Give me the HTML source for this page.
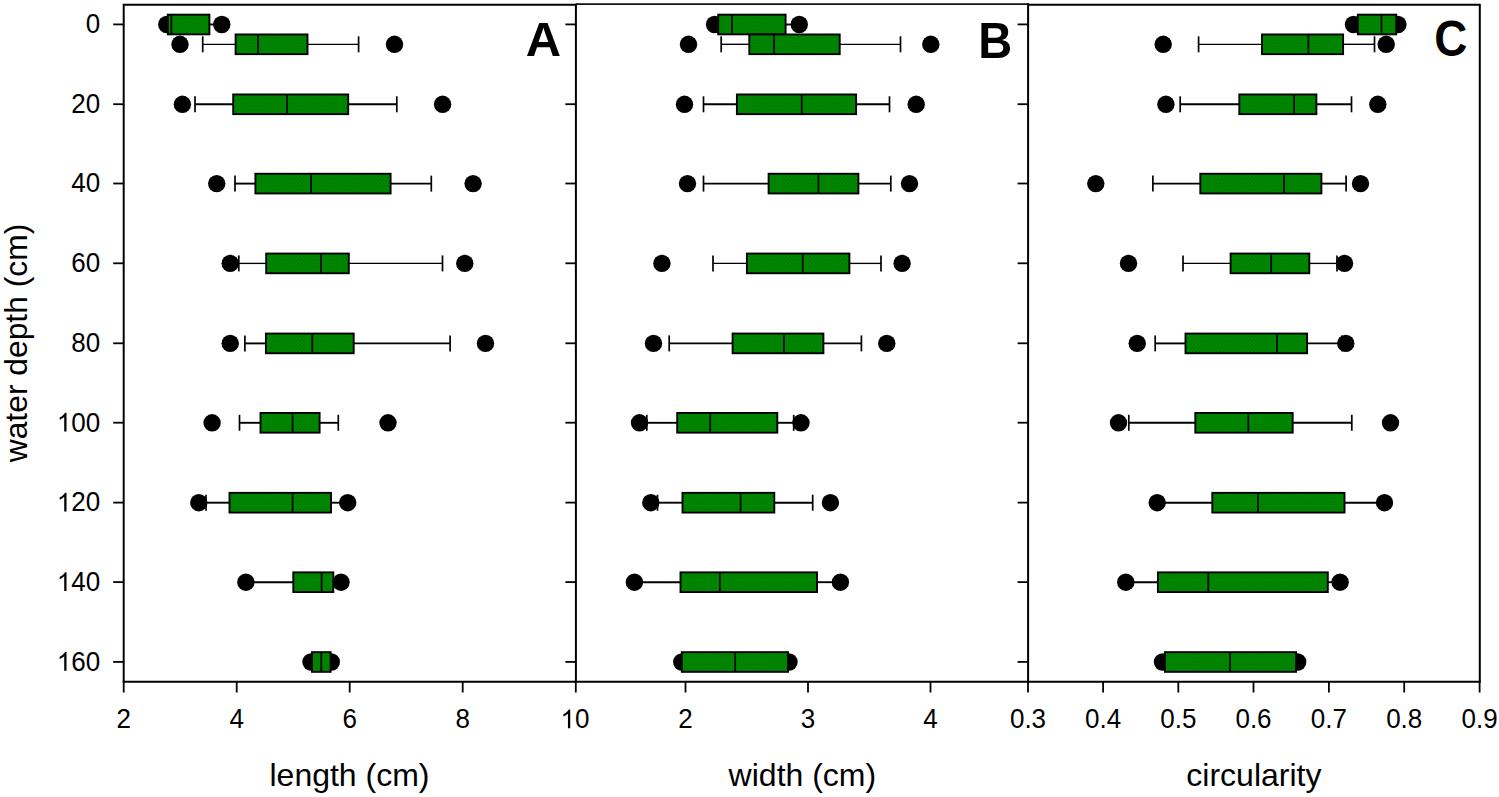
<!DOCTYPE html>
<html><head><meta charset="utf-8"><title>Box plots</title>
<style>
html,body{margin:0;padding:0;background:#fff;}
svg{display:block;font-family:"Liberation Sans",sans-serif;}
.w{stroke:#000;stroke-width:1.9;fill:none;}
.c{stroke:#000;stroke-width:1.7;fill:none;}
.b{fill:url(#gp);stroke:#000;stroke-width:1.9;}
.f{stroke:#000;stroke-width:2;fill:none;}
.f2{stroke:#111;stroke-width:1.7;fill:none;}
.t{stroke:#000;stroke-width:1.8;}
.tl{font-size:26px;fill:#000;}
.at{font-size:32px;fill:#000;}
.pl{font-size:48px;font-weight:bold;fill:#000;}
</style></head>
<body>
<svg width="1499" height="797" viewBox="0 0 1499 797">
<defs><pattern id="gp" width="6.8" height="4.2" patternUnits="userSpaceOnUse"><rect width="6.8" height="4.2" fill="#008700"/><circle cx="0.9" cy="0.7" r="0.6" fill="#006e00"/><circle cx="4.3" cy="0.7" r="0.6" fill="#006e00"/><circle cx="2.6" cy="2.8" r="0.6" fill="#006e00"/><circle cx="6.0" cy="2.8" r="0.6" fill="#006e00"/></pattern></defs>
<rect width="1499" height="797" fill="#fff"/>
<circle cx="166.8" cy="24.5" r="8.7"/>
<circle cx="221.8" cy="24.5" r="8.7"/>
<line x1="209.4" y1="24.5" x2="221.0" y2="24.5" class="w"/>
<rect x="167.8" y="14.65" width="41.6" height="19.7" class="b"/>
<line x1="171.4" y1="14.65" x2="171.4" y2="34.35" class="c"/>
<circle cx="180.0" cy="44.3" r="8.7"/>
<circle cx="394.5" cy="44.3" r="8.7"/>
<line x1="202.7" y1="44.3" x2="235.6" y2="44.3" class="w" style="stroke-width:1.35"/>
<line x1="202.7" y1="36.3" x2="202.7" y2="52.3" class="c"/>
<line x1="307.5" y1="44.3" x2="358.6" y2="44.3" class="w" style="stroke-width:1.35"/>
<line x1="358.6" y1="36.3" x2="358.6" y2="52.3" class="c"/>
<rect x="235.6" y="34.45" width="71.9" height="19.7" class="b"/>
<line x1="258.1" y1="34.45" x2="258.1" y2="54.15" class="c"/>
<circle cx="182.4" cy="104.3" r="8.7"/>
<circle cx="442.6" cy="104.3" r="8.7"/>
<line x1="195.0" y1="104.3" x2="233.2" y2="104.3" class="w"/>
<line x1="195.0" y1="96.3" x2="195.0" y2="112.3" class="c"/>
<line x1="348.2" y1="104.3" x2="396.8" y2="104.3" class="w"/>
<line x1="396.8" y1="96.3" x2="396.8" y2="112.3" class="c"/>
<rect x="233.2" y="94.45" width="115.0" height="19.7" class="b"/>
<line x1="287.1" y1="94.45" x2="287.1" y2="114.15" class="c"/>
<circle cx="216.7" cy="183.6" r="8.7"/>
<circle cx="473.1" cy="183.6" r="8.7"/>
<line x1="235.0" y1="183.6" x2="255.4" y2="183.6" class="w"/>
<line x1="235.0" y1="175.6" x2="235.0" y2="191.6" class="c"/>
<line x1="390.6" y1="183.6" x2="431.3" y2="183.6" class="w"/>
<line x1="431.3" y1="175.6" x2="431.3" y2="191.6" class="c"/>
<rect x="255.4" y="173.75" width="135.2" height="19.7" class="b"/>
<line x1="311.1" y1="173.75" x2="311.1" y2="193.45" class="c"/>
<circle cx="230.2" cy="263.4" r="8.7"/>
<circle cx="464.8" cy="263.4" r="8.7"/>
<line x1="238.8" y1="263.4" x2="266.2" y2="263.4" class="w" style="stroke-width:1.35"/>
<line x1="238.8" y1="255.39999999999998" x2="238.8" y2="271.4" class="c"/>
<line x1="348.8" y1="263.4" x2="442.5" y2="263.4" class="w" style="stroke-width:1.35"/>
<line x1="442.5" y1="255.39999999999998" x2="442.5" y2="271.4" class="c"/>
<rect x="266.2" y="253.55" width="82.6" height="19.7" class="b"/>
<line x1="321.0" y1="253.55" x2="321.0" y2="273.25" class="c"/>
<circle cx="230.2" cy="343.4" r="8.7"/>
<circle cx="485.5" cy="343.4" r="8.7"/>
<line x1="244.9" y1="343.4" x2="265.9" y2="343.4" class="w"/>
<line x1="244.9" y1="335.4" x2="244.9" y2="351.4" class="c"/>
<line x1="353.7" y1="343.4" x2="450.1" y2="343.4" class="w"/>
<line x1="450.1" y1="335.4" x2="450.1" y2="351.4" class="c"/>
<rect x="265.9" y="333.55" width="87.8" height="19.7" class="b"/>
<line x1="312.3" y1="333.55" x2="312.3" y2="353.25" class="c"/>
<circle cx="212.1" cy="422.8" r="8.7"/>
<circle cx="388.0" cy="422.8" r="8.7"/>
<line x1="239.5" y1="422.8" x2="260.5" y2="422.8" class="w"/>
<line x1="239.5" y1="414.8" x2="239.5" y2="430.8" class="c"/>
<line x1="319.6" y1="422.8" x2="338.3" y2="422.8" class="w"/>
<line x1="338.3" y1="414.8" x2="338.3" y2="430.8" class="c"/>
<rect x="260.5" y="412.95" width="59.1" height="19.7" class="b"/>
<line x1="292.6" y1="412.95" x2="292.6" y2="432.65" class="c"/>
<circle cx="198.8" cy="502.7" r="8.7"/>
<circle cx="347.7" cy="502.7" r="8.7"/>
<line x1="206.0" y1="502.7" x2="229.5" y2="502.7" class="w"/>
<line x1="206.0" y1="494.7" x2="206.0" y2="510.7" class="c"/>
<line x1="331.0" y1="502.7" x2="347.0" y2="502.7" class="w"/>
<rect x="229.5" y="492.85" width="101.5" height="19.7" class="b"/>
<line x1="292.6" y1="492.85" x2="292.6" y2="512.55" class="c"/>
<circle cx="245.9" cy="582.2" r="8.7"/>
<circle cx="341.0" cy="582.2" r="8.7"/>
<line x1="246.0" y1="582.2" x2="293.3" y2="582.2" class="w"/>
<line x1="333.3" y1="582.2" x2="341.0" y2="582.2" class="w"/>
<rect x="293.3" y="572.35" width="40.0" height="19.7" class="b"/>
<line x1="321.6" y1="572.35" x2="321.6" y2="592.05" class="c"/>
<circle cx="311.0" cy="662.0" r="8.7"/>
<circle cx="331.3" cy="662.0" r="8.7"/>
<rect x="312.0" y="652.15" width="18.6" height="19.7" class="b"/>
<line x1="321.3" y1="652.15" x2="321.3" y2="671.85" class="c"/>
<circle cx="714.6" cy="24.5" r="8.7"/>
<circle cx="799.3" cy="24.5" r="8.7"/>
<line x1="785.6" y1="24.5" x2="799.0" y2="24.5" class="w"/>
<rect x="718.2" y="14.65" width="67.4" height="19.7" class="b"/>
<line x1="731.9" y1="14.65" x2="731.9" y2="34.35" class="c"/>
<circle cx="688.5" cy="44.3" r="8.7"/>
<circle cx="930.8" cy="44.3" r="8.7"/>
<line x1="721.2" y1="44.3" x2="749.3" y2="44.3" class="w" style="stroke-width:1.35"/>
<line x1="721.2" y1="36.3" x2="721.2" y2="52.3" class="c"/>
<line x1="839.7" y1="44.3" x2="900.5" y2="44.3" class="w" style="stroke-width:1.35"/>
<line x1="900.5" y1="36.3" x2="900.5" y2="52.3" class="c"/>
<rect x="749.3" y="34.45" width="90.4" height="19.7" class="b"/>
<line x1="774.0" y1="34.45" x2="774.0" y2="54.15" class="c"/>
<circle cx="684.5" cy="104.3" r="8.7"/>
<circle cx="916.2" cy="104.3" r="8.7"/>
<line x1="703.5" y1="104.3" x2="736.9" y2="104.3" class="w"/>
<line x1="703.5" y1="96.3" x2="703.5" y2="112.3" class="c"/>
<line x1="856.1" y1="104.3" x2="889.5" y2="104.3" class="w"/>
<line x1="889.5" y1="96.3" x2="889.5" y2="112.3" class="c"/>
<rect x="736.9" y="94.45" width="119.2" height="19.7" class="b"/>
<line x1="801.7" y1="94.45" x2="801.7" y2="114.15" class="c"/>
<circle cx="687.5" cy="183.6" r="8.7"/>
<circle cx="909.5" cy="183.6" r="8.7"/>
<line x1="703.5" y1="183.6" x2="768.6" y2="183.6" class="w"/>
<line x1="703.5" y1="175.6" x2="703.5" y2="191.6" class="c"/>
<line x1="858.4" y1="183.6" x2="890.8" y2="183.6" class="w"/>
<line x1="890.8" y1="175.6" x2="890.8" y2="191.6" class="c"/>
<rect x="768.6" y="173.75" width="89.8" height="19.7" class="b"/>
<line x1="818.4" y1="173.75" x2="818.4" y2="193.45" class="c"/>
<circle cx="661.9" cy="263.4" r="8.7"/>
<circle cx="902.1" cy="263.4" r="8.7"/>
<line x1="713.0" y1="263.4" x2="746.9" y2="263.4" class="w" style="stroke-width:1.35"/>
<line x1="713.0" y1="255.39999999999998" x2="713.0" y2="271.4" class="c"/>
<line x1="849.4" y1="263.4" x2="881.0" y2="263.4" class="w" style="stroke-width:1.35"/>
<line x1="881.0" y1="255.39999999999998" x2="881.0" y2="271.4" class="c"/>
<rect x="746.9" y="253.55" width="102.5" height="19.7" class="b"/>
<line x1="802.7" y1="253.55" x2="802.7" y2="273.25" class="c"/>
<circle cx="653.5" cy="343.4" r="8.7"/>
<circle cx="886.8" cy="343.4" r="8.7"/>
<line x1="669.2" y1="343.4" x2="732.6" y2="343.4" class="w"/>
<line x1="669.2" y1="335.4" x2="669.2" y2="351.4" class="c"/>
<line x1="823.4" y1="343.4" x2="861.4" y2="343.4" class="w"/>
<line x1="861.4" y1="335.4" x2="861.4" y2="351.4" class="c"/>
<rect x="732.6" y="333.55" width="90.8" height="19.7" class="b"/>
<line x1="784.0" y1="333.55" x2="784.0" y2="353.25" class="c"/>
<circle cx="639.5" cy="422.8" r="8.7"/>
<circle cx="801.0" cy="422.8" r="8.7"/>
<line x1="646.8" y1="422.8" x2="677.2" y2="422.8" class="w"/>
<line x1="646.8" y1="414.8" x2="646.8" y2="430.8" class="c"/>
<line x1="777.3" y1="422.8" x2="793.7" y2="422.8" class="w"/>
<line x1="793.7" y1="414.8" x2="793.7" y2="430.8" class="c"/>
<rect x="677.2" y="412.95" width="100.1" height="19.7" class="b"/>
<line x1="710.2" y1="412.95" x2="710.2" y2="432.65" class="c"/>
<circle cx="650.8" cy="502.7" r="8.7"/>
<circle cx="830.4" cy="502.7" r="8.7"/>
<line x1="657.5" y1="502.7" x2="682.5" y2="502.7" class="w"/>
<line x1="657.5" y1="494.7" x2="657.5" y2="510.7" class="c"/>
<line x1="774.3" y1="502.7" x2="812.7" y2="502.7" class="w"/>
<line x1="812.7" y1="494.7" x2="812.7" y2="510.7" class="c"/>
<rect x="682.5" y="492.85" width="91.8" height="19.7" class="b"/>
<line x1="740.6" y1="492.85" x2="740.6" y2="512.55" class="c"/>
<circle cx="634.4" cy="582.2" r="8.7"/>
<circle cx="840.4" cy="582.2" r="8.7"/>
<line x1="634.4" y1="582.2" x2="680.5" y2="582.2" class="w"/>
<line x1="817.0" y1="582.2" x2="840.4" y2="582.2" class="w"/>
<rect x="680.5" y="572.35" width="136.5" height="19.7" class="b"/>
<line x1="719.9" y1="572.35" x2="719.9" y2="592.05" class="c"/>
<circle cx="681.8" cy="662.0" r="8.7"/>
<circle cx="789.0" cy="662.0" r="8.7"/>
<rect x="681.8" y="652.15" width="106.2" height="19.7" class="b"/>
<line x1="735.2" y1="652.15" x2="735.2" y2="671.85" class="c"/>
<circle cx="1353.5" cy="24.5" r="8.7"/>
<circle cx="1397.9" cy="24.5" r="8.7"/>
<rect x="1357.8" y="14.65" width="38.4" height="19.7" class="b"/>
<line x1="1381.5" y1="14.65" x2="1381.5" y2="34.35" class="c"/>
<circle cx="1163.2" cy="44.3" r="8.7"/>
<circle cx="1386.2" cy="44.3" r="8.7"/>
<line x1="1198.6" y1="44.3" x2="1262.0" y2="44.3" class="w" style="stroke-width:1.35"/>
<line x1="1198.6" y1="36.3" x2="1198.6" y2="52.3" class="c"/>
<line x1="1343.1" y1="44.3" x2="1374.5" y2="44.3" class="w" style="stroke-width:1.35"/>
<line x1="1374.5" y1="36.3" x2="1374.5" y2="52.3" class="c"/>
<rect x="1262.0" y="34.45" width="81.1" height="19.7" class="b"/>
<line x1="1308.4" y1="34.45" x2="1308.4" y2="54.15" class="c"/>
<circle cx="1165.9" cy="104.3" r="8.7"/>
<circle cx="1377.8" cy="104.3" r="8.7"/>
<line x1="1180.2" y1="104.3" x2="1239.3" y2="104.3" class="w"/>
<line x1="1180.2" y1="96.3" x2="1180.2" y2="112.3" class="c"/>
<line x1="1316.4" y1="104.3" x2="1351.5" y2="104.3" class="w"/>
<line x1="1351.5" y1="96.3" x2="1351.5" y2="112.3" class="c"/>
<rect x="1239.3" y="94.45" width="77.1" height="19.7" class="b"/>
<line x1="1294.1" y1="94.45" x2="1294.1" y2="114.15" class="c"/>
<circle cx="1095.8" cy="183.6" r="8.7"/>
<circle cx="1360.5" cy="183.6" r="8.7"/>
<line x1="1152.9" y1="183.6" x2="1200.3" y2="183.6" class="w"/>
<line x1="1152.9" y1="175.6" x2="1152.9" y2="191.6" class="c"/>
<line x1="1321.4" y1="183.6" x2="1346.1" y2="183.6" class="w"/>
<line x1="1346.1" y1="175.6" x2="1346.1" y2="191.6" class="c"/>
<rect x="1200.3" y="173.75" width="121.1" height="19.7" class="b"/>
<line x1="1284.0" y1="173.75" x2="1284.0" y2="193.45" class="c"/>
<circle cx="1128.5" cy="263.4" r="8.7"/>
<circle cx="1344.5" cy="263.4" r="8.7"/>
<line x1="1183.0" y1="263.4" x2="1230.6" y2="263.4" class="w" style="stroke-width:1.35"/>
<line x1="1183.0" y1="255.39999999999998" x2="1183.0" y2="271.4" class="c"/>
<line x1="1309.3" y1="263.4" x2="1337.0" y2="263.4" class="w" style="stroke-width:1.35"/>
<line x1="1337.0" y1="255.39999999999998" x2="1337.0" y2="271.4" class="c"/>
<rect x="1230.6" y="253.55" width="78.7" height="19.7" class="b"/>
<line x1="1271.2" y1="253.55" x2="1271.2" y2="273.25" class="c"/>
<circle cx="1137.2" cy="343.4" r="8.7"/>
<circle cx="1345.8" cy="343.4" r="8.7"/>
<line x1="1155.2" y1="343.4" x2="1185.5" y2="343.4" class="w"/>
<line x1="1155.2" y1="335.4" x2="1155.2" y2="351.4" class="c"/>
<line x1="1307.1" y1="343.4" x2="1341.8" y2="343.4" class="w"/>
<line x1="1341.8" y1="335.4" x2="1341.8" y2="351.4" class="c"/>
<rect x="1185.5" y="333.55" width="121.6" height="19.7" class="b"/>
<line x1="1277.0" y1="333.55" x2="1277.0" y2="353.25" class="c"/>
<circle cx="1118.5" cy="422.8" r="8.7"/>
<circle cx="1390.5" cy="422.8" r="8.7"/>
<line x1="1128.8" y1="422.8" x2="1195.3" y2="422.8" class="w"/>
<line x1="1128.8" y1="414.8" x2="1128.8" y2="430.8" class="c"/>
<line x1="1292.7" y1="422.8" x2="1351.8" y2="422.8" class="w"/>
<line x1="1351.8" y1="414.8" x2="1351.8" y2="430.8" class="c"/>
<rect x="1195.3" y="412.95" width="97.4" height="19.7" class="b"/>
<line x1="1248.3" y1="412.95" x2="1248.3" y2="432.65" class="c"/>
<circle cx="1157.2" cy="502.7" r="8.7"/>
<circle cx="1384.5" cy="502.7" r="8.7"/>
<line x1="1157.2" y1="502.7" x2="1212.3" y2="502.7" class="w"/>
<line x1="1344.5" y1="502.7" x2="1384.5" y2="502.7" class="w"/>
<rect x="1212.3" y="492.85" width="132.2" height="19.7" class="b"/>
<line x1="1258.0" y1="492.85" x2="1258.0" y2="512.55" class="c"/>
<circle cx="1125.8" cy="582.2" r="8.7"/>
<circle cx="1340.1" cy="582.2" r="8.7"/>
<line x1="1125.8" y1="582.2" x2="1157.9" y2="582.2" class="w"/>
<line x1="1327.8" y1="582.2" x2="1340.1" y2="582.2" class="w"/>
<rect x="1157.9" y="572.35" width="169.9" height="19.7" class="b"/>
<line x1="1208.3" y1="572.35" x2="1208.3" y2="592.05" class="c"/>
<circle cx="1162.5" cy="662.0" r="8.7"/>
<circle cx="1297.7" cy="662.0" r="8.7"/>
<rect x="1164.9" y="652.15" width="131.2" height="19.7" class="b"/>
<line x1="1230.0" y1="652.15" x2="1230.0" y2="671.85" class="c"/>
<path d="M123.7 681.8 V4.7 H575.9" class="f"/>
<path d="M575.9 4.1 H1028.1" class="f2"/>
<path d="M1028.1 4.7 H1479.8 V681.8" class="f"/>
<line x1="575.9" y1="3.7" x2="575.9" y2="681.8" class="f"/>
<line x1="1028.1" y1="3.3" x2="1028.1" y2="681.8" class="f"/>
<line x1="122.7" y1="681.8" x2="1480.8" y2="681.8" class="f"/>
<line x1="113.2" y1="24.4" x2="123.7" y2="24.4" class="t"/>
<line x1="565.4" y1="24.4" x2="575.9" y2="24.4" class="t"/>
<line x1="1017.5999999999999" y1="24.4" x2="1028.1" y2="24.4" class="t"/>
<line x1="113.2" y1="104.2" x2="123.7" y2="104.2" class="t"/>
<line x1="565.4" y1="104.2" x2="575.9" y2="104.2" class="t"/>
<line x1="1017.5999999999999" y1="104.2" x2="1028.1" y2="104.2" class="t"/>
<line x1="113.2" y1="183.5" x2="123.7" y2="183.5" class="t"/>
<line x1="565.4" y1="183.5" x2="575.9" y2="183.5" class="t"/>
<line x1="1017.5999999999999" y1="183.5" x2="1028.1" y2="183.5" class="t"/>
<line x1="113.2" y1="263.29999999999995" x2="123.7" y2="263.29999999999995" class="t"/>
<line x1="565.4" y1="263.29999999999995" x2="575.9" y2="263.29999999999995" class="t"/>
<line x1="1017.5999999999999" y1="263.29999999999995" x2="1028.1" y2="263.29999999999995" class="t"/>
<line x1="113.2" y1="343.29999999999995" x2="123.7" y2="343.29999999999995" class="t"/>
<line x1="565.4" y1="343.29999999999995" x2="575.9" y2="343.29999999999995" class="t"/>
<line x1="1017.5999999999999" y1="343.29999999999995" x2="1028.1" y2="343.29999999999995" class="t"/>
<line x1="113.2" y1="422.7" x2="123.7" y2="422.7" class="t"/>
<line x1="565.4" y1="422.7" x2="575.9" y2="422.7" class="t"/>
<line x1="1017.5999999999999" y1="422.7" x2="1028.1" y2="422.7" class="t"/>
<line x1="113.2" y1="502.59999999999997" x2="123.7" y2="502.59999999999997" class="t"/>
<line x1="565.4" y1="502.59999999999997" x2="575.9" y2="502.59999999999997" class="t"/>
<line x1="1017.5999999999999" y1="502.59999999999997" x2="1028.1" y2="502.59999999999997" class="t"/>
<line x1="113.2" y1="582.1" x2="123.7" y2="582.1" class="t"/>
<line x1="565.4" y1="582.1" x2="575.9" y2="582.1" class="t"/>
<line x1="1017.5999999999999" y1="582.1" x2="1028.1" y2="582.1" class="t"/>
<line x1="113.2" y1="661.9" x2="123.7" y2="661.9" class="t"/>
<line x1="565.4" y1="661.9" x2="575.9" y2="661.9" class="t"/>
<line x1="1017.5999999999999" y1="661.9" x2="1028.1" y2="661.9" class="t"/>
<line x1="123.7" y1="681.8" x2="123.7" y2="692.5" class="t"/>
<line x1="236.7" y1="681.8" x2="236.7" y2="692.5" class="t"/>
<line x1="349.7" y1="681.8" x2="349.7" y2="692.5" class="t"/>
<line x1="462.7" y1="681.8" x2="462.7" y2="692.5" class="t"/>
<line x1="575.8" y1="681.8" x2="575.8" y2="692.5" class="t"/>
<line x1="685.5" y1="681.8" x2="685.5" y2="692.5" class="t"/>
<line x1="808.0" y1="681.8" x2="808.0" y2="692.5" class="t"/>
<line x1="930.5" y1="681.8" x2="930.5" y2="692.5" class="t"/>
<line x1="1028.0" y1="681.8" x2="1028.0" y2="692.5" class="t"/>
<line x1="1103.1" y1="681.8" x2="1103.1" y2="692.5" class="t"/>
<line x1="1178.3" y1="681.8" x2="1178.3" y2="692.5" class="t"/>
<line x1="1253.5" y1="681.8" x2="1253.5" y2="692.5" class="t"/>
<line x1="1328.9" y1="681.8" x2="1328.9" y2="692.5" class="t"/>
<line x1="1404.2" y1="681.8" x2="1404.2" y2="692.5" class="t"/>
<line x1="1479.6" y1="681.8" x2="1479.6" y2="692.5" class="t"/>
<g transform="translate(116.47 728.3)"><text x="0.0" y="0" class="tl" transform="scale(1 1.04)">2</text></g>
<g transform="translate(229.47 728.3)"><text x="0.0" y="0" class="tl" transform="scale(1 1.04)">4</text></g>
<g transform="translate(342.47 728.3)"><text x="0.0" y="0" class="tl" transform="scale(1 1.04)">6</text></g>
<g transform="translate(455.47 728.3)"><text x="0.0" y="0" class="tl" transform="scale(1 1.04)">8</text></g>
<g transform="translate(560.54 728.3)"><path d="M763 0H583V1147Q518 1085 412.5 1023T223 930V1104Q374 1175 487 1276T647 1472H763Z" transform="translate(0.0 0) scale(0.0127 -0.0127)"/><text x="14.46" y="0" class="tl" transform="scale(1 1.04)">0</text></g>
<g transform="translate(678.27 728.3)"><text x="0.0" y="0" class="tl" transform="scale(1 1.04)">2</text></g>
<g transform="translate(800.77 728.3)"><text x="0.0" y="0" class="tl" transform="scale(1 1.04)">3</text></g>
<g transform="translate(923.27 728.3)"><text x="0.0" y="0" class="tl" transform="scale(1 1.04)">4</text></g>
<g transform="translate(1009.93 728.3)"><text x="0.0" y="0" class="tl" transform="scale(1 1.04)">0.3</text></g>
<g transform="translate(1085.03 728.3)"><text x="0.0" y="0" class="tl" transform="scale(1 1.04)">0.4</text></g>
<g transform="translate(1160.23 728.3)"><text x="0.0" y="0" class="tl" transform="scale(1 1.04)">0.5</text></g>
<g transform="translate(1235.43 728.3)"><text x="0.0" y="0" class="tl" transform="scale(1 1.04)">0.6</text></g>
<g transform="translate(1310.83 728.3)"><text x="0.0" y="0" class="tl" transform="scale(1 1.04)">0.7</text></g>
<g transform="translate(1386.13 728.3)"><text x="0.0" y="0" class="tl" transform="scale(1 1.04)">0.8</text></g>
<g transform="translate(1461.53 728.3)"><text x="0.0" y="0" class="tl" transform="scale(1 1.04)">0.9</text></g>
<g transform="translate(85.74 33.2)"><text x="0.0" y="0" class="tl" transform="scale(1 1.04)">0</text></g>
<g transform="translate(71.28 113.0)"><text x="0.0" y="0" class="tl" transform="scale(1 1.04)">20</text></g>
<g transform="translate(71.28 192.3)"><text x="0.0" y="0" class="tl" transform="scale(1 1.04)">40</text></g>
<g transform="translate(71.28 272.1)"><text x="0.0" y="0" class="tl" transform="scale(1 1.04)">60</text></g>
<g transform="translate(71.28 352.1)"><text x="0.0" y="0" class="tl" transform="scale(1 1.04)">80</text></g>
<g transform="translate(56.82 431.5)"><path d="M763 0H583V1147Q518 1085 412.5 1023T223 930V1104Q374 1175 487 1276T647 1472H763Z" transform="translate(0.0 0) scale(0.0127 -0.0127)"/><text x="14.46" y="0" class="tl" transform="scale(1 1.04)">00</text></g>
<g transform="translate(56.82 511.4)"><path d="M763 0H583V1147Q518 1085 412.5 1023T223 930V1104Q374 1175 487 1276T647 1472H763Z" transform="translate(0.0 0) scale(0.0127 -0.0127)"/><text x="14.46" y="0" class="tl" transform="scale(1 1.04)">20</text></g>
<g transform="translate(56.82 590.9)"><path d="M763 0H583V1147Q518 1085 412.5 1023T223 930V1104Q374 1175 487 1276T647 1472H763Z" transform="translate(0.0 0) scale(0.0127 -0.0127)"/><text x="14.46" y="0" class="tl" transform="scale(1 1.04)">40</text></g>
<g transform="translate(56.82 670.7)"><path d="M763 0H583V1147Q518 1085 412.5 1023T223 930V1104Q374 1175 487 1276T647 1472H763Z" transform="translate(0.0 0) scale(0.0127 -0.0127)"/><text x="14.46" y="0" class="tl" transform="scale(1 1.04)">60</text></g>
<text x="349.5" y="785.8" class="at" text-anchor="middle">length (cm)</text>
<text x="802.4" y="785.8" class="at" text-anchor="middle">width (cm)</text>
<text x="1253.9" y="785.8" class="at" text-anchor="middle">circularity</text>
<text transform="translate(26.6 343.0) rotate(-90)" class="at" style="font-size:31.8px" text-anchor="middle">water depth (cm)</text>
<text transform="translate(543.5 55.5) scale(1.02 1.01)" class="pl" text-anchor="middle">A</text>
<text transform="translate(995.3 58.2) scale(0.98 1.03)" class="pl" text-anchor="middle">B</text>
<text transform="translate(1450.8 55.95) scale(0.955 1.04)" class="pl" text-anchor="middle">C</text>
</svg>
</body></html>
